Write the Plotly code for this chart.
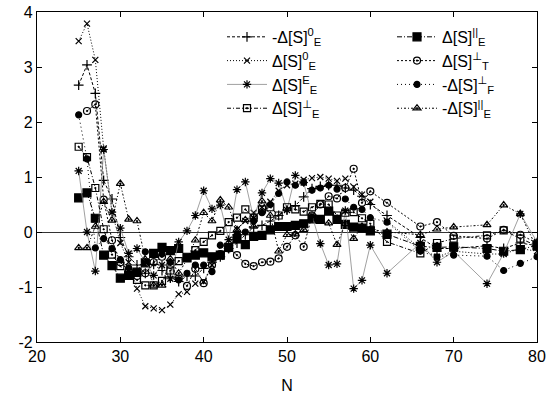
import plotly.graph_objects as go

N = [25, 26, 27, 28, 29, 30, 31, 32, 33, 34, 35, 36, 37, 38, 39, 40, 41, 42, 43, 44,
     45, 46, 47, 48, 49, 50, 51, 52, 53, 54, 55, 56, 57, 58, 59, 60, 62, 66, 68, 70,
     74, 76, 78, 80]

neg_S0_E = [2.67, 3.04, 2.52, 0.94, 0.6, -0.1, -0.45, -0.6, -0.75, -0.59, -0.7, -0.82, -0.9, -0.8, -0.8, -0.66,
            -0.55, -0.45, -0.3, -0.2, -0.05, 0.09, 0.12, 0.2, 0.3, 0.4, 0.48, 0.64, 0.79, 0.83, 0.85, 0.85,
            0.8, 0.76, 0.65, 0.5, 0.3, -0.1, -0.3, -0.3, -0.25, -0.3, -0.2, -0.25]
S0_E = [3.47, 3.79, 3.13, 1.52, 0.36, -0.2, -0.55, -1.03, -1.35, -1.39, -1.42, -1.32, -1.13, -1.09, -0.94, -0.9,
        -0.6, -0.45, -0.25, 0.05, 0.2, 0.35, 0.45, 0.55, 0.75, 0.85, 0.88, 0.95, 0.98, 1.0, 0.97, 0.93,
        0.97, 0.82, 0.68, 0.55, 0.2, -0.3, -0.45, -0.35, -0.4, -0.4, -0.3, -0.35]
SE_E = [1.11, 0.0, -0.71, 1.5, 0.36, 0.07, -0.39, -0.3, -0.55, -0.79, -0.6, -0.85, -0.18, 0.02, 0.3, 0.75,
        0.42, 0.49, -0.14, 0.77, 0.91, 0.25, 0.71, 0.97, 0.89, 0.4, 1.03, 0.9, 0.3, -0.21, -0.6, -0.58,
        0.39, -1.03, -0.88, -0.24, -0.75, -0.2, -0.55, -0.35, -0.94, -0.39, 0.33, -0.18]
Sperp_E = [1.55, 1.36, 0.8, 0.05, -0.41, -0.62, -0.75, -0.87, -0.97, -0.97, -0.89, -0.7, -0.53, -0.45, -0.33, -0.18,
           -0.06, 0.02, 0.18, 0.26, 0.41, 0.26, 0.41, 0.45, 0.3, 0.45, 0.41, 0.37, 0.45, 0.51, 0.5, 0.3,
           0.35, 0.36, 0.25, 0.15, -0.18, -0.39, -0.2, -0.12, -0.06, 0.03, -0.12, -0.25]
Spar_E = [0.62, 0.71, 0.25, -0.42, -0.61, -0.84, -0.79, -0.73, -0.56, -0.39, -0.28, -0.34, -0.3, -0.47, -0.42, -0.38,
          -0.45, -0.42, -0.28, -0.12, -0.23, -0.08, -0.06, 0.04, 0.1, 0.1, 0.12, 0.15, 0.24, 0.23, 0.38, 0.23,
          0.14, 0.09, 0.07, 0.02, -0.04, -0.26, -0.28, -0.27, -0.3, -0.35, -0.32, -0.24]
Sperp_T = [None, 2.2, 2.32, 0.59, -0.15, -0.55, -0.7, -0.8, -0.75, -0.55, -0.45, -0.6, -0.85, -0.98, -0.67, -0.93,
           -0.6, -0.4, -0.3, -0.42, -0.58, -0.62, -0.55, -0.54, -0.48, -0.27, -0.06, -0.27, 0.3, 0.5, 0.65, 0.61,
           0.8, 1.15, 0.53, 0.74, 0.53, 0.1, 0.18, -0.07, -0.12, 0.04, -0.05, -0.2]
neg_Sperp_F = [2.13, 1.33, -0.29, -0.12, -0.3, -0.5, -0.65, -0.75, -0.36, -0.42, -0.4, -0.55, -0.87, -0.75, -0.6, -0.6,
               -0.72, -0.24, -0.3, -0.05, 0.0, 0.2, 0.35, 0.5, 0.7, 0.91, 0.85, 0.9, 0.76, 0.8, 0.85, 0.78,
               0.6, 0.45, 0.41, 0.26, 0.18, -0.35, -0.45, -0.42, -0.44, -0.7, -0.57, -0.45]
neg_Spar_E = [-0.29, -0.29, 0.1, 0.55, 0.21, 0.88, 0.23, 0.2, -0.5, -0.97, -0.97, -0.49, -0.75, -0.5, -0.15, 0.35,
              0.2, 0.58, 0.45, 0.04, 0.22, 0.1, 0.56, 0.3, -0.35, -0.05, -0.04, 0.04, 0.25, 0.2, 0.16, -0.23,
              0.15, -0.12, 0.1, 0.05, 0.0, -0.05, 0.05, 0.09, 0.13, 0.49, 0.33, -0.3]

x_ticks = [20, 30, 40, 50, 60, 70, 80]
y_ticks = [-2, -1, 0, 1, 2, 3, 4]
y_ticktext = ["-2", "-1", "0", "1", "2", "3", "4"]

FONT = "Liberation Sans, Arial, DejaVu Sans, sans-serif"

series = [
    ("-Δ[S]<sup>0</sup><sub>E</sub>", neg_S0_E, "cross-thin-open", 7, "#000", "3px,2px", 1.0),
    ("Δ[S]<sup>||</sup><sub>E</sub>", Spar_E, "square", 8, "#000", "5px,2px,1px,2px", 1.0),
    ("Δ[S]<sup>0</sup><sub>E</sub>", S0_E, "x-thin-open", 6, "#000", "1px,2px", 1.0),
    ("Δ[S]<sup>⊥</sup><sub>T</sub>", Sperp_T, "circle-open-dot", 7, "#000", "2px,2px", 1.0),
    ("Δ[S]<sup>E</sup><sub>E</sub>", SE_E, "asterisk-open", 7, "#888", "solid", 0.8),
    ("-Δ[S]<sup>⊥</sup><sub>F</sub>", neg_Sperp_F, "circle", 6, "#000", "1px,3px", 1.0),
    ("Δ[S]<sup>⊥</sup><sub>E</sub>", Sperp_E, "square-open-dot", 7, "#000", "4px,2px,1px,2px", 1.0),
    ("-Δ[S]<sup>||</sup><sub>E</sub>", neg_Spar_E, "triangle-up-open-dot", 7, "#000", "2px,2px,1px,2px", 1.0),
]

fig = go.Figure()
for name, vals, sym, size, color, dash, lw in series:
    mcolor = "#000"
    fig.add_trace(go.Scatter(
        x=N, y=vals, name=name, mode="lines+markers",
        line=dict(color=color, width=lw, dash=dash),
        marker=dict(symbol=sym, size=size, color=mcolor,
                    line=dict(color=mcolor, width=1.2)),
        connectgaps=False,
    ))

axis_common = dict(
    showline=True, linecolor="#000", linewidth=1.2, mirror="ticks",
    ticks="inside", ticklen=5, tickcolor="#000", tickwidth=1,
    showgrid=False, automargin=False,
    tickfont=dict(family=FONT, size=16, color="#000"),
)

fig.update_layout(
    width=550, height=402,
    margin=dict(l=37, r=13, t=12, b=60, autoexpand=False),
    paper_bgcolor="white", plot_bgcolor="white",
    font=dict(family=FONT, size=16, color="#000"),
    xaxis=dict(range=[20, 80], tickvals=x_ticks, zeroline=False,
               title=dict(text="N", font=dict(size=16)), **axis_common),
    yaxis=dict(range=[-2, 4], tickvals=y_ticks, ticktext=y_ticktext,
               zeroline=True, zerolinecolor="#333", zerolinewidth=1.4, **axis_common),
    legend=dict(
        orientation="h", x=0.37, xanchor="left", y=0.976, yanchor="top",
        entrywidth=115, entrywidthmode="pixels", itemwidth=40,
        bgcolor="rgba(255,255,255,0)", font=dict(family=FONT, size=16, color="#000"),
        tracegroupgap=0,
    ),
    showlegend=True,
)

fig.write_html(
    "out.html",
    config={"displayModeBar": False},
    post_script="document.body.style.margin='0';document.body.style.padding='0';",
)
